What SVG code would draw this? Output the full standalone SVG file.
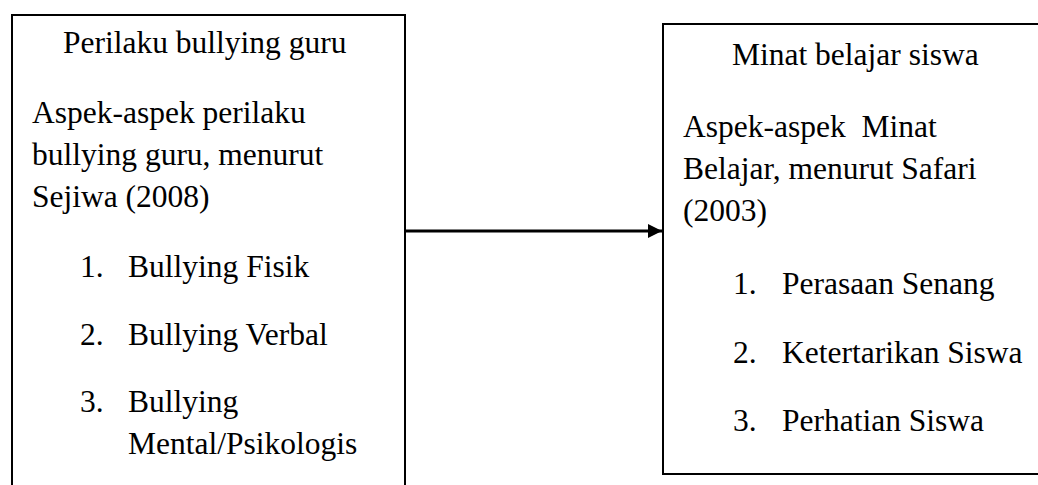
<svg xmlns="http://www.w3.org/2000/svg" width="1038" height="485" viewBox="0 0 1038 485">
<style>
.box{fill:#fff;stroke:#000;stroke-width:2}
.t{font-family:"Liberation Serif","Times New Roman",serif;font-size:31.5px;fill:#000}
.c{stroke:#000;stroke-width:3;fill:none}
</style>
<defs>
<marker id="ah" markerWidth="14" markerHeight="14" viewBox="0 0 14 14" refX="14" refY="7" orient="auto" markerUnits="userSpaceOnUse">
<path d="M0,0 L14,7 L0,14 Z" fill="#000"/>
</marker>
</defs>
<rect width="1038" height="485" fill="#fff"/>
<g id="node-left">
<path class="box" d="M12,486 V15 H405 V486"/>
<text class="t" x="63" y="53">Perilaku bullying guru</text>
<text class="t" x="32" y="123">Aspek-aspek perilaku</text>
<text class="t" x="32" y="165">bullying guru, menurut</text>
<text class="t" x="32" y="207">Sejiwa (2008)</text>
<text class="t" x="80" y="277">1.</text><text class="t" x="128" y="277">Bullying Fisik</text>
<text class="t" x="80" y="345">2.</text><text class="t" x="128" y="345">Bullying Verbal</text>
<text class="t" x="80" y="412">3.</text><text class="t" x="128" y="412">Bullying</text>
<text class="t" x="128" y="454">Mental/Psikologis</text>
</g>
<g id="node-right">
<rect class="box" x="663" y="24" width="380" height="450"/>
<text class="t" x="732" y="65">Minat belajar siswa</text>
<text class="t" x="683" y="137" xml:space="preserve">Aspek-aspek  Minat</text>
<text class="t" x="683" y="179">Belajar, menurut Safari</text>
<text class="t" x="683" y="221">(2003)</text>
<text class="t" x="733" y="294">1.</text><text class="t" x="782" y="294">Perasaan Senang</text>
<text class="t" x="733" y="363">2.</text><text class="t" x="782" y="363">Ketertarikan Siswa</text>
<text class="t" x="733" y="431">3.</text><text class="t" x="782" y="431">Perhatian Siswa</text>
</g>
<g id="connectors">
<line class="c" x1="405" y1="231" x2="662" y2="231" marker-end="url(#ah)"/>
</g>
</svg>
